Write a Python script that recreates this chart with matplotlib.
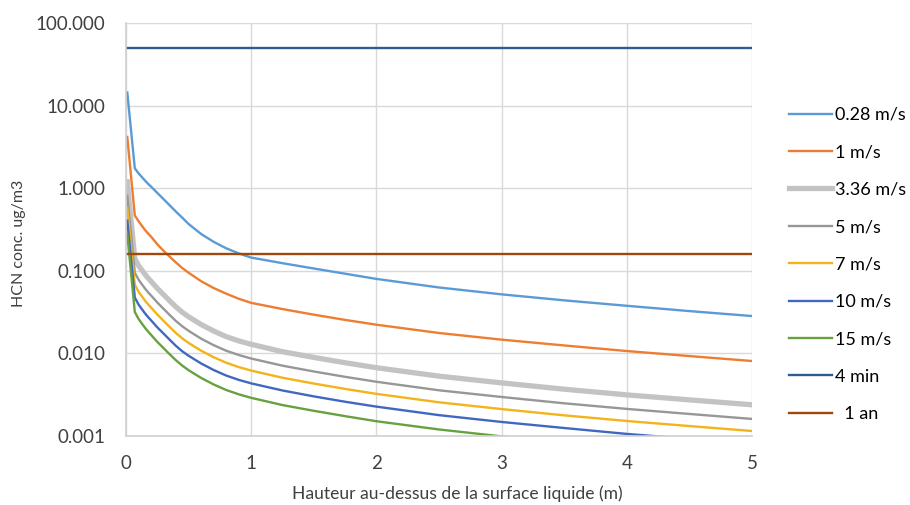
import numpy as np
import matplotlib
matplotlib.use('Agg')
import matplotlib.pyplot as plt
from matplotlib.ticker import FixedLocator, FuncFormatter

plt.rcParams['font.family'] = ['Lato', 'DejaVu Sans']

# hauteur (m)
x = [0.01, 0.07, 0.1, 0.125, 0.15, 0.175, 0.2, 0.25, 0.3, 0.35, 0.4, 0.45, 0.5,
     0.6, 0.7, 0.8, 0.9, 1.0, 1.25, 1.5, 1.75, 2.0, 2.5, 3.0, 3.5, 4.0, 4.5, 5.0]

# HCN conc. ug/m3 per wind speed
c_028 = [14.5, 1.75, 1.52, 1.38, 1.25, 1.14, 1.05, 0.88, 0.74, 0.62, 0.52, 0.44, 0.37,
         0.28, 0.225, 0.188, 0.163, 0.145, 0.124, 0.107, 0.0925, 0.080, 0.063, 0.052, 0.044, 0.0378, 0.0326, 0.0284]
c_1 = [4.2, 0.47, 0.40, 0.355, 0.315, 0.285, 0.26, 0.21, 0.175, 0.148, 0.126, 0.108, 0.095,
       0.075, 0.062, 0.053, 0.046, 0.041, 0.0345, 0.0295, 0.0255, 0.0223, 0.0177, 0.0147, 0.0125, 0.0107, 0.0093, 0.0081]
c_336 = [1.20, 0.141, 0.116, 0.103, 0.0913, 0.0822, 0.0747, 0.0614, 0.0515, 0.0432, 0.0365, 0.0315, 0.0278,
         0.0224, 0.0187, 0.0160, 0.0142, 0.0129, 0.0105, 0.00896, 0.00772, 0.00672, 0.00531, 0.00440, 0.00369, 0.00315, 0.00274, 0.00239]
c_5 = [0.812, 0.0952, 0.0784, 0.0694, 0.0616, 0.0554, 0.0504, 0.0414, 0.0347, 0.0291, 0.0246, 0.0213, 0.0188,
       0.0151, 0.0126, 0.0108, 0.00958, 0.00868, 0.00711, 0.00605, 0.00521, 0.00454, 0.00358, 0.00297, 0.00249, 0.00213, 0.00185, 0.00161]
c_7 = [0.58, 0.068, 0.056, 0.0496, 0.044, 0.0396, 0.036, 0.0296, 0.0248, 0.0208, 0.0176, 0.0152, 0.0134,
       0.0108, 0.009, 0.00772, 0.00684, 0.0062, 0.00508, 0.00432, 0.00372, 0.00324, 0.00256, 0.00212, 0.00178, 0.00152, 0.00132, 0.00115]
c_10 = [0.406, 0.0476, 0.0392, 0.0347, 0.0308, 0.0277, 0.0252, 0.0207, 0.0174, 0.0146, 0.0123, 0.0106, 0.00938,
        0.00756, 0.0063, 0.0054, 0.00479, 0.00434, 0.00356, 0.00302, 0.0026, 0.00227, 0.00179, 0.00148, 0.00125, 0.00106, 0.000924, 0.000806]
c_15 = [0.28, 0.0318, 0.0262, 0.0232, 0.0206, 0.0185, 0.0168, 0.0138, 0.0116, 0.00972, 0.00823, 0.00711, 0.00626,
        0.00505, 0.00421, 0.00361, 0.0032, 0.0029, 0.00237, 0.00202, 0.00174, 0.00151, 0.0012, 0.00099, 0.000832, 0.000711, 0.000617, 0.000539]

# seuils
seuil_x = [0, 5]
seuil_4min = [50, 50]
seuil_1an = [0.16, 0.16]

fig = plt.figure(figsize=(9.1, 5.05), dpi=100)
ax = fig.add_axes([0.1385, 0.1366, 0.688, 0.8173])

ax.plot(x, c_028, color='#5B9BD5', lw=1.7, label='0.28 m/s')
ax.plot(x, c_1, color='#ED7D31', lw=1.7, label='1 m/s')
ax.plot(x, c_336, color='#C3C3C3', lw=3.8, label='3.36 m/s')
ax.plot(x, c_5, color='#979797', lw=1.7, label='5 m/s')
ax.plot(x, c_7, color='#F2B31B', lw=1.7, label='7 m/s')
ax.plot(x, c_10, color='#4168C0', lw=1.7, label='10 m/s')
ax.plot(x, c_15, color='#67A140', lw=1.7, label='15 m/s')
ax.plot(seuil_x, seuil_4min, color='#2F5C8F', lw=1.7, label='4 min')
ax.plot(seuil_x, seuil_1an, color='#9E480E', lw=1.7, label='  1 an')

ax.set_yscale('log')
ax.set_ylim(0.001, 100)
ax.set_xlim(0, 5)
ax.yaxis.set_major_locator(FixedLocator([0.001, 0.01, 0.1, 1, 10, 100]))
ax.yaxis.set_minor_locator(FixedLocator([]))
ax.yaxis.set_major_formatter(FuncFormatter(lambda v, p: '{:.3f}'.format(v)))
ax.set_xticks([0, 1, 2, 3, 4, 5])

ax.grid(True, color='#D9D9D9', lw=1)
ax.set_axisbelow(True)
for s in ['top', 'right']:
    ax.spines[s].set_visible(False)
for s in ['left', 'bottom']:
    ax.spines[s].set_color('#D0D0D0')
    ax.spines[s].set_linewidth(1.2)
ax.tick_params(length=0, labelsize=13.5, colors='#404040')
ax.tick_params(axis='y', pad=15)
ax.tick_params(axis='x', pad=14)

ax.set_xlabel('Hauteur au-dessus de la surface liquide (m)', fontsize=12.6, color='#404040', labelpad=9)
ax.xaxis.label.set_x(0.529)
ax.set_ylabel('HCN conc. ug/m3', fontsize=11.5, color='#404040', labelpad=7)
ax.yaxis.label.set_y(0.467)

ax.legend(loc='upper left', bbox_to_anchor=(1.047, 0.815), frameon=False, fontsize=13,
          handlelength=2.4, handletextpad=0.15, labelspacing=1.185, borderaxespad=0)

fig.savefig('out.png', dpi=100)
